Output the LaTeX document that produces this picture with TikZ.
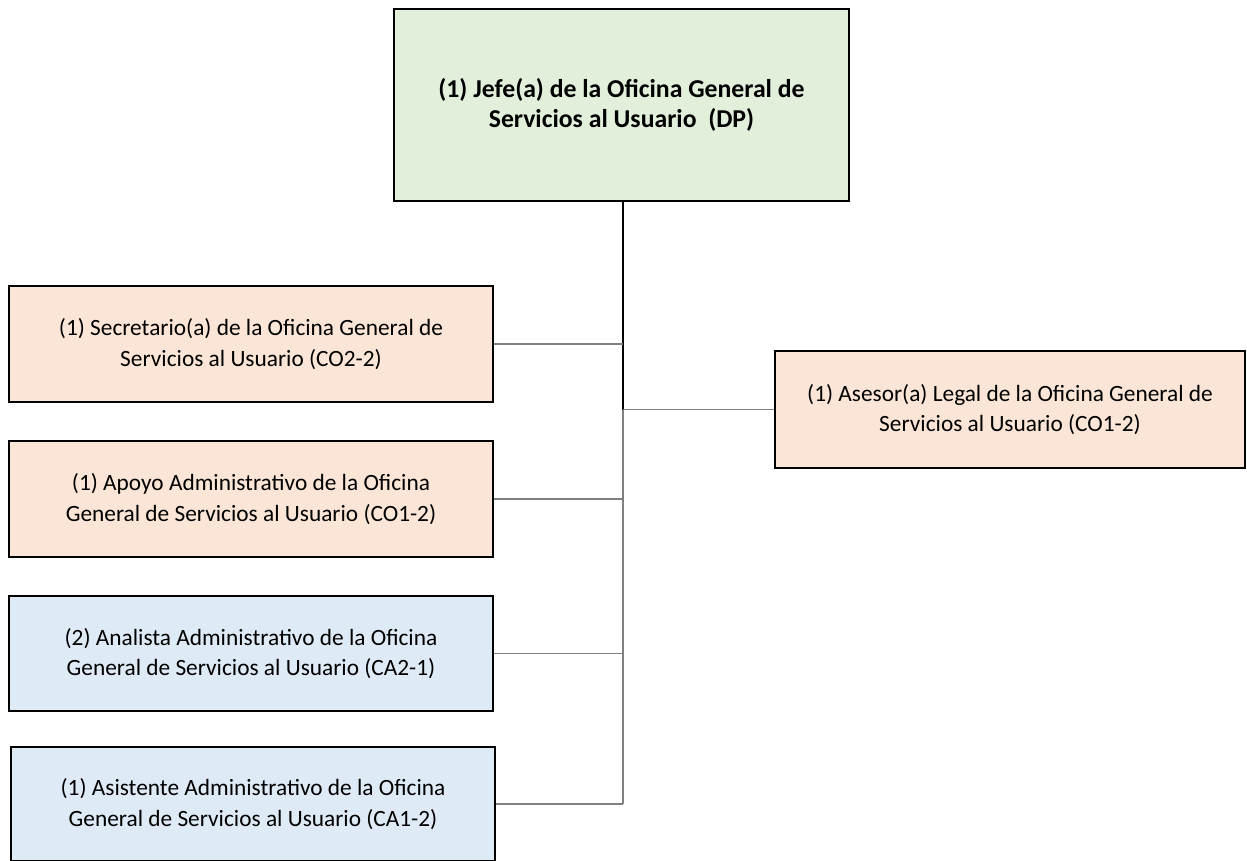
\documentclass[tikz,border=0pt]{standalone}
\usepackage{fontspec}
\setmainfont{Carlito}
\definecolor{boxgreen}{HTML}{E2EFDA}
\definecolor{boxpeach}{HTML}{FBE5D6}
\definecolor{boxblue}{HTML}{DEEBF7}
\definecolor{lineg}{HTML}{808080}
\begin{document}
\begin{tikzpicture}[x=0.75pt,y=-0.75pt,
  orgbox/.style={draw=black,line width=1.2pt,rectangle,inner sep=0pt,align=center,
    font=\fontsize{17.5}{23}\selectfont},
  topbox/.style={orgbox,fill=boxgreen,font=\bfseries\fontsize{19.3}{23}\selectfont},
  peachbox/.style={orgbox,fill=boxpeach},
  bluebox/.style={orgbox,fill=boxblue},
  trunk/.style={draw=black,line width=1.2pt},
  branch/.style={draw=lineg,line width=0.9pt}]
\useasboundingbox (0,0) rectangle (1247,861);
\node[topbox,minimum width=455*0.75pt,minimum height=192*0.75pt] (top) at (621.5,105)
  {(1) Jefe(a) de la Oficina General de\\Servicios al Usuario\ \ (DP)};
\node[peachbox,minimum width=484*0.75pt,minimum height=116*0.75pt] (sec) at (251,344)
  {(1) Secretario(a) de la Oficina General de\\Servicios al Usuario (CO2-2)};
\node[peachbox,minimum width=484*0.75pt,minimum height=116*0.75pt] (apo) at (251,499)
  {(1) Apoyo Administrativo de la Oficina\\General de Servicios al Usuario (CO1-2)};
\node[bluebox,minimum width=484*0.75pt,minimum height=115*0.75pt] (ana) at (251,653.5)
  {(2) Analista Administrativo de la Oficina\\General de Servicios al Usuario (CA2-1)};
\node[bluebox,minimum width=484*0.75pt,minimum height=114*0.75pt] (asi) at (253,804)
  {(1) Asistente Administrativo de la Oficina\\General de Servicios al Usuario (CA1-2)};
\node[peachbox,minimum width=470*0.75pt,minimum height=117*0.75pt] (ase) at (1010,409.5)
  {(1) Asesor(a) Legal de la Oficina General de\\Servicios al Usuario (CO1-2)};
\coordinate (tb) at ([xshift=1.5*0.75pt]top.south);
\draw[trunk] (tb) -- (tb |- ase.west);
\draw[branch] (tb |- ase.west) -- (tb |- asi.east);
\draw[branch] (sec.east) -- (sec.east -| tb);
\draw[branch] (apo.east) -- (apo.east -| tb);
\draw[branch] (ana.east) -- (ana.east -| tb);
\draw[branch] (asi.east) -- (asi.east -| tb);
\draw[branch] (ase.west) -- (ase.west -| tb);
\end{tikzpicture}
\end{document}
